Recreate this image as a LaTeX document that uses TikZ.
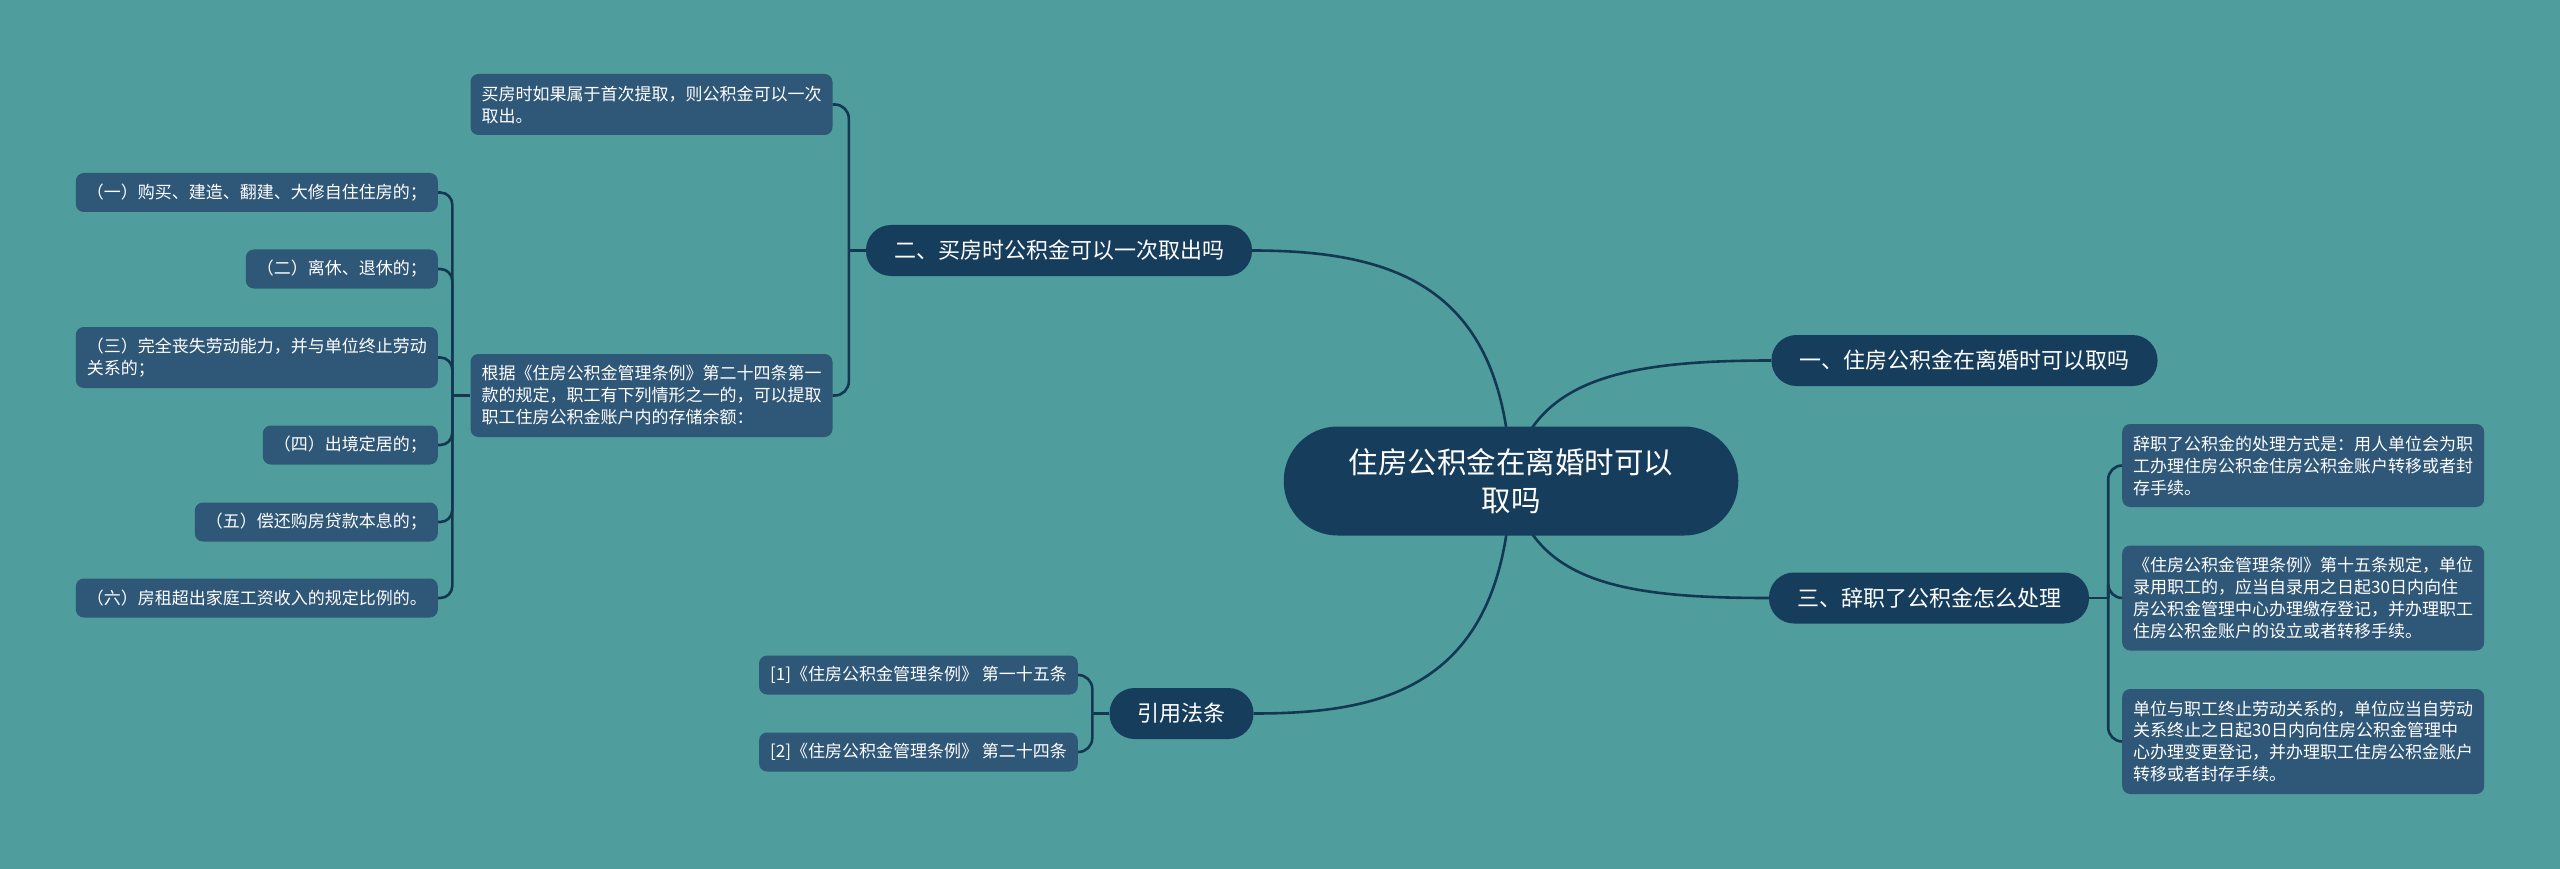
\documentclass[tikz,border=0pt]{standalone}
\usepackage{fontspec}
\newfontfamily\cjk{Noto Sans CJK SC}
\usetikzlibrary{calc}
\pgfdeclarelayer{bg}
\pgfsetlayers{bg,main}
\definecolor{bgc}{HTML}{4F9D9D}
\definecolor{rootc}{HTML}{173D5C}
\definecolor{leafc}{HTML}{2F5777}
\definecolor{linec}{HTML}{143852}
\begin{document}
\begin{tikzpicture}[x=1pt,y=-1pt,
  conn/.style={draw=linec, line width=2.6pt},
  rootnode/.style={fill=rootc, text=white, rounded corners=54pt, minimum height=109pt, inner xsep=65pt, inner ysep=4pt, align=center, font=\cjk\fontsize{29.5}{38}\selectfont},
  branch/.style={fill=rootc, text=white, rounded corners=25pt, minimum height=51pt, inner xsep=28pt, inner ysep=4pt, font=\cjk\fontsize{22}{26}\selectfont},
  leaf/.style={fill=leafc, text=white, rounded corners=8pt, inner xsep=11pt, inner ysep=4pt, align=left, font=\cjk\fontsize{17}{22}\selectfont},
  leafa/.style={leaf, minimum height=39pt},
  leafb/.style={leaf, minimum height=61pt},
  leafc/.style={leaf, minimum height=83pt},
  leafd/.style={leaf, minimum height=105pt}]
\useasboundingbox (0,0) rectangle (2560,869);

% root and branches
\node[rootnode] (root) at (1511,481) {住房公积金在离婚时可以\\取吗};
\node[branch] (b1) at (1964.5,360.5) {一、住房公积金在离婚时可以取吗};
\node[branch] (b2) at (1059,250.5) {二、买房时公积金可以一次取出吗};
\node[branch] (b3) at (1929,598) {三、辞职了公积金怎么处理};
\node[branch] (b4) at (1181.5,713.5) {引用法条};

% branch 2 leaves
\node[leafb] (l21) at (651.5,104.5) {买房时如果属于首次提取，则公积金可以一次\\取出。};
\node[leafc] (gen) at (651.5,395.5) {根据《住房公积金管理条例》第二十四条第一\\款的规定，职工有下列情形之一的，可以提取\\职工住房公积金账户内的存储余额：};

\node[leafa, anchor=east] (c1) at (438,192.5) {（一）购买、建造、翻建、大修自住住房的；};
\node[leafa, anchor=east] (c2) at (438,269) {（二）离休、退休的；};
\node[leafb, anchor=east] (c3) at (438,357.5) {（三）完全丧失劳动能力，并与单位终止劳动\\关系的；};
\node[leafa, anchor=east] (c4) at (438,445) {（四）出境定居的；};
\node[leafa, anchor=east] (c5) at (438,522) {（五）偿还购房贷款本息的；};
\node[leafa, anchor=east] (c6) at (438,598) {（六）房租超出家庭工资收入的规定比例的。};

% branch 3 leaves
\node[leafc, anchor=west] (r1) at (2122,465.5) {辞职了公积金的处理方式是：用人单位会为职\\工办理住房公积金住房公积金账户转移或者封\\存手续。};
\node[leafd, anchor=west] (r2) at (2122,598) {《住房公积金管理条例》第十五条规定，单位\\录用职工的，应当自录用之日起30日内向住\\房公积金管理中心办理缴存登记，并办理职工\\住房公积金账户的设立或者转移手续。};
\node[leafd, anchor=west] (r3) at (2122,741.5) {单位与职工终止劳动关系的，单位应当自劳动\\关系终止之日起30日内向住房公积金管理中\\心办理变更登记，并办理职工住房公积金账户\\转移或者封存手续。};

% references
\node[leafa, anchor=east] (f1) at (1078,675) {[1]《住房公积金管理条例》 第一十五条};
\node[leafa, anchor=east] (f2) at (1078,752) {[2]《住房公积金管理条例》 第二十四条};

\coordinate (j2) at ($(b2.west)+(-17,0)$);
\coordinate (jg) at ($(gen.west)+(-18,0)$);
\coordinate (j3) at ($(b3.east)+(19,0)$);
\coordinate (j4) at ($(b4.west)+(-17,0)$);

\begin{pgfonlayer}{bg}
\fill[bgc] (0,0) rectangle (2560,869);
\draw[conn] (root.center) .. controls (1505,290) and (1400,250.5) .. (b2.east);
\draw[conn] (root.center) .. controls (1530,380) and (1620,360.5) .. (b1.west);
\draw[conn] (root.center) .. controls (1530,582) and (1620,598) .. (b3.west);
\draw[conn] (root.center) .. controls (1505,690) and (1380,713.5) .. (b4.east);

\draw[conn] (b2.west) -- (j2);
\draw[conn, rounded corners=14pt] (j2) |- (l21.east);
\draw[conn, rounded corners=14pt] (j2) |- (gen.east);

\draw[conn] (gen.west) -- (jg);
\foreach \c in {c1,c2,c3,c4,c5,c6}
  \draw[conn, rounded corners=12pt] (jg) |- (\c.east);

\draw[conn] (b3.east) -- (j3);
\foreach \c in {r1,r2,r3}
  \draw[conn, rounded corners=14pt] (j3) |- (\c.west);

\draw[conn] (b4.west) -- (j4);
\foreach \c in {f1,f2}
  \draw[conn, rounded corners=14pt] (j4) |- (\c.east);
\end{pgfonlayer}
\end{tikzpicture}
\end{document}
